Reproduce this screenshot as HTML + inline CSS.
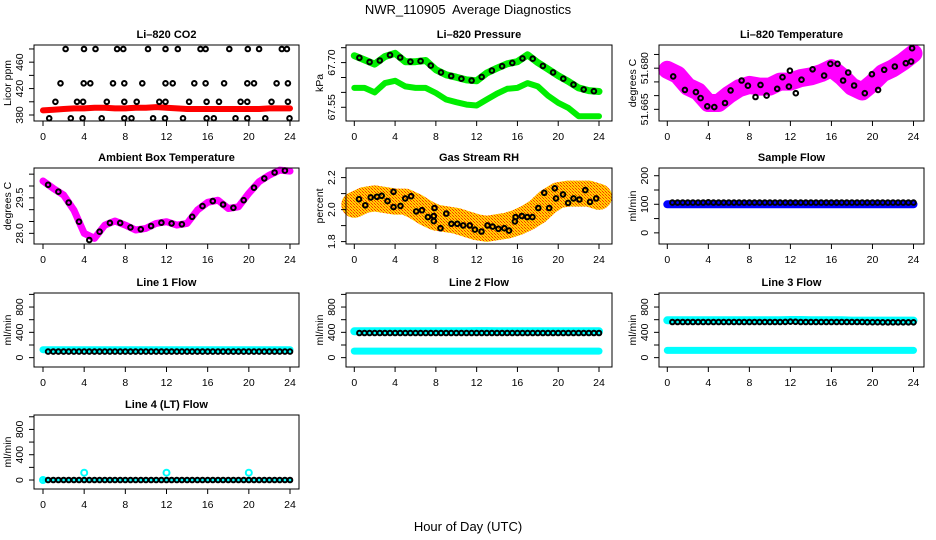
<!DOCTYPE html>
<html><head><meta charset="utf-8"><style>
html,body{margin:0;padding:0;background:#fff}
svg{display:block}
text{font-family:"Liberation Sans",Arial,sans-serif;fill:#000}
</style></head><body>
<svg id="chart" width="936" height="540" viewBox="0 0 936 540" xmlns="http://www.w3.org/2000/svg">
<defs>
<pattern id="rhpat" width="3" height="3" patternUnits="userSpaceOnUse">
<rect width="3" height="3" fill="#ffd400"/><rect width="1" height="1" fill="#ff3000"/><rect x="1" y="1" width="1" height="1" fill="#ff8000"/><rect x="2" y="2" width="1" height="1" fill="#ff3000"/>
</pattern>
</defs>
<text x="468" y="14" font-size="13" text-anchor="middle">NWR_110905&#160; Average Diagnostics</text>
<text x="468" y="531" font-size="13" text-anchor="middle">Hour of Day (UTC)</text>
<g id="panels"></g>
</svg>
<script>
const hourly=[0,1,2,3,4,5,6,7,8,9,10,11,12,13,14,15,16,17,18,19,20,21,22,23,24];
const midHours=[0.5,1.5,2.5,3.5,4.5,5.5,6.5,7.5,8.5,9.5,10.5,11.5,12.5,13.5,14.5,15.5,16.5,17.5,18.5,19.5,20.5,21.5,22.5,23.5];
const halfHours=[0.5,1,1.5,2,2.5,3,3.5,4,4.5,5,5.5,6,6.5,7,7.5,8,8.5,9,9.5,10,10.5,11,11.5,12,12.5,13,13.5,14,14.5,15,15.5,16,16.5,17,17.5,18,18.5,19,19.5,20,20.5,21,21.5,22,22.5,23,23.5,24];
const xTicks=[0,4,8,12,16,20,24];

const co2Red=[387,388,389,390,390,391,391,390,390,391,391,392,391,390,389,389,389,389,389,389,389,389,390,390,390];
const co2PtHours=[2.2,3.98,5.1,7.2,7.8,10.2,11.9,13.1,15.3,15.8,18.1,19.9,21,23.2,23.7,
1.7,3.95,4.6,6.8,7.9,9.65,11.9,12.6,14.7,15.8,17.6,19.85,20.5,22.7,23.8,
1.2,3.3,3.9,6.2,7.9,9.1,11.3,11.9,14.2,15.9,17.1,19.2,19.85,22.2,23.8,
0.6,2.7,3.85,5.7,7.9,8.6,10.7,11.85,13.6,15.9,16.6,18.7,19.85,21.6,23.95];
const co2PtVals=[480,480,480,480,480,480,480,480,480,480,480,480,480,480,480,
428,428,428,428,428,428,428,428,428,428,428,428,428,428,428,
400,400,400,400,400,400,400,400,400,400,400,400,400,400,400,
375,375,375,375,375,375,375,375,375,375,375,375,375,375,375];

const pUpper=[67.723,67.709,67.695,67.720,67.731,67.703,67.703,67.707,67.676,67.659,67.651,67.642,67.639,67.665,67.681,67.696,67.703,67.726,67.700,67.678,67.656,67.637,67.615,67.606,67.603];
const pLower=[67.615,67.615,67.600,67.631,67.639,67.620,67.615,67.615,67.598,67.576,67.567,67.559,67.556,67.576,67.596,67.612,67.615,67.631,67.620,67.589,67.565,67.548,67.520,67.520,67.520];
const pBlack=[67.716,67.702,67.707,67.725,67.717,67.703,67.705,67.690,67.667,67.655,67.646,67.640,67.652,67.673,67.688,67.699,67.714,67.713,67.689,67.667,67.646,67.626,67.610,67.604];

const tMag=[51.6794,51.6776,51.6733,51.6715,51.6673,51.6673,51.6703,51.6727,51.6739,51.6733,51.6733,51.6751,51.6751,51.6764,51.6770,51.6782,51.6800,51.6770,51.6733,51.6715,51.6746,51.6782,51.6800,51.6824,51.6854];
const tBlackHours=[0.58,1.72,2.79,3.25,3.9,4.58,5.62,6.17,7.24,7.86,8.6,9.09,9.68,10.71,11.23,11.95,11.85,12.53,13.08,14.16,15.29,15.9,16.59,17.14,17.63,18.21,19.25,19.94,20.55,21.14,22.18,23.25,23.77,23.86];
const tBlackVals=[51.6770,51.6721,51.6713,51.6691,51.6661,51.6658,51.6673,51.6719,51.6755,51.6736,51.6695,51.6739,51.6700,51.6725,51.6767,51.6791,51.6733,51.6709,51.6758,51.6796,51.6773,51.6816,51.6816,51.6755,51.6784,51.6737,51.6709,51.6778,51.6721,51.6794,51.6806,51.6818,51.6824,51.6873];

const ambMag=[30.21,29.90,29.62,28.98,28.00,27.79,28.35,28.52,28.35,28.14,28.21,28.42,28.49,28.35,28.42,28.98,29.31,29.40,29.05,29.12,29.69,30.18,30.46,30.67,30.63];
const ambBlack=[30.05,29.76,29.30,28.49,27.72,28.07,28.44,28.44,28.25,28.17,28.31,28.45,28.42,28.38,28.70,29.15,29.36,29.22,29.08,29.40,29.93,30.32,30.57,30.65];

const rhCloud=[2.03,2.06,2.07,2.06,2.05,2.05,2.02,1.98,1.95,1.94,1.93,1.91,1.89,1.88,1.89,1.90,1.92,1.95,1.99,2.05,2.09,2.10,2.10,2.10,2.08];
const rhBlackHours=[0.46,1.08,1.61,2.23,2.69,3.26,3.84,3.84,4.53,4.99,5.57,6.07,6.64,7.22,7.8,7.8,7.87,8.45,9.02,9.52,10.1,10.68,11.33,11.83,12.48,13.06,13.56,14.13,14.71,15.17,15.75,15.82,16.44,16.97,17.47,18.05,18.63,19.12,19.66,19.78,20.47,20.97,21.5,22.08,22.66,23.12,23.73];
const rhBlackVals=[2.065,2.027,2.076,2.080,2.086,2.053,2.111,2.016,2.023,2.070,2.084,1.989,1.996,1.953,1.960,1.928,2.010,1.884,1.975,1.911,1.911,1.901,1.901,1.875,1.863,1.901,1.894,1.880,1.884,1.869,1.926,1.953,1.960,1.953,1.953,2.010,2.105,2.010,2.133,2.070,2.095,2.042,2.070,2.063,2.122,2.048,2.070];

const sampleBlue=[100,100,100,100,100,100,100,100,100,100,100,100,100,100,100,100,100,100,100,100,100,100,100,100,100];
const sampleBlack=[106,106,106,106,106,106,106,107,106,106,106,106,106,106,106,106,106,106,106,106,106,106,106,106,106,106,106,106,106,106,106,106,106,106,106,106,106,106,106,106,106,106,106,106,106,106,106,106];

const line1Cyan=[126,126,126,126,126,126,126,126,126,126,126,126,126,126,126,126,126,126,126,126,126,126,126,126,126];
const line1Black=[95,95,95,95,95,95,95,95,95,95,95,95,95,95,95,95,95,95,95,95,95,95,95,95,95,95,95,95,95,95,95,95,95,95,95,95,95,95,95,95,95,95,95,95,95,95,95,95];
const line2CyanHi=[416,416,416,416,416,416,416,416,416,416,416,416,420,420,416,416,416,416,416,416,416,416,416,416,416];
const line2CyanLo=[104,104,104,104,104,104,104,104,104,104,104,104,104,104,104,104,104,104,104,104,104,104,104,104,104];
const line2Black=[390,390,390,390,390,390,390,390,390,390,390,390,390,390,390,390,390,390,390,390,390,390,390,390,390,390,390,390,390,390,390,390,390,390,390,390,390,390,390,390,390,390,390,390,390,390,390,390];
const line3CyanHi=[590,590,590,590,590,590,590,590,590,590,590,590,595,595,590,590,590,590,585,585,585,585,585,585,585];
const line3CyanLo=[115,115,115,115,115,115,115,115,115,115,115,115,115,115,115,115,115,115,115,115,115,115,115,115,115];
const line3Black=[563,563,563,563,563,563,563,563,563,563,563,563,563,563,563,563,563,563,563,563,563,563,565,568,566,563,563,563,563,563,563,563,563,563,563,563,563,563,560,560,560,558,558,558,558,558,558,558];
const line4Cyan=[0,0,0,0,0,0,0,0,0,0,0,0,0,0,0,0,0,0,0,0,0,0,0,0,0];
const line4CyanOutHours=[0,4,12,20];
const line4CyanOutVals=[0,115,115,115];
const line4Black=[0,0,0,0,0,0,0,0,0,0,0,0,0,0,0,0,0,0,0,0,0,0,0,0,0,0,0,0,0,0,0,0,0,0,0,0,0,0,0,0,0,0,0,0,0,0,0,0];

const NS='http://www.w3.org/2000/svg';
const root=document.getElementById('panels');
const cols=[{bx0:34,bx1:299,x0:43,x24:290},{bx0:346,bx1:612,x0:354.3,x24:599},{bx0:659,bx1:924,x0:667.3,x24:913.5}];
const rows=[{by0:45,by1:121},{by0:168,by1:244},{by0:293,by1:367},{by0:415,by1:489}];
function mk(tag,attrs,parent){const e=document.createElementNS(NS,tag);for(const k in attrs)e.setAttribute(k,attrs[k]);parent.appendChild(e);return e;}

function panel(o){
  const c=cols[o.col],r=rows[o.row];
  const g=mk('g',{},root);
  
  
  const xs=h=>c.x0+h*(c.x24-c.x0)/24;
  const ys=v=>r.by1-(v-o.ymin)/(o.ymax-o.ymin)*(r.by1-r.by0);
  const series=mk('g',{},g);
  
  
  o.draw(series,xs,ys);
  const box=mk('rect',{x:c.bx0,y:r.by0,width:c.bx1-c.bx0,height:r.by1-r.by0,fill:'none',stroke:'#000','stroke-width':1},g);
  
  
  const t=mk('text',{x:(c.bx0+c.bx1)/2,y:r.by0-7,'font-size':11,'font-weight':'bold','text-anchor':'middle'},g);
  t.textContent=o.title;
  
  
  const xa=mk('g',{},g);
  
  
  mk('line',{x1:xs(0),x2:xs(24),y1:r.by1,y2:r.by1,stroke:'#000'},xa);
  xTicks.forEach(v=>{
    mk('line',{x1:xs(v),x2:xs(v),y1:r.by1,y2:r.by1+5,stroke:'#000'},xa);
    const l=mk('text',{x:xs(v),y:r.by1+19,'font-size':10.5,'text-anchor':'middle'},xa);
    l.textContent=String(v);
    
    
  });
  const ya=mk('g',{},g);
  
  
  mk('line',{x1:c.bx0,x2:c.bx0,y1:ys(o.yticks[0]),y2:ys(o.yticks[o.yticks.length-1]),stroke:'#000'},ya);
  o.yticks.forEach(v=>{mk('line',{x1:c.bx0-5,x2:c.bx0,y1:ys(v),y2:ys(v),stroke:'#000'},ya);});
  o.ylabels.forEach((s,i)=>{
    const y=ys(o.ylabelVals[i]);
    const l=mk('text',{x:c.bx0-11,y:y,'font-size':10.5,'text-anchor':'middle',transform:`rotate(-90 ${c.bx0-11} ${y})`},ya);
    l.textContent=s;
    
    
  });
  const ym=(r.by0+r.by1)/2;
  const yt=mk('text',{x:c.bx0-23,y:ym,'font-size':10.5,'text-anchor':'middle',transform:`rotate(-90 ${c.bx0-23} ${ym})`},g);
  yt.textContent=o.ylab;
  
  
}
function band(p,xs,ys,hours,vals,color,w,name){
  const d=hours.map((h,i)=>(i?'L':'M')+xs(h).toFixed(1)+' '+ys(vals[i]).toFixed(1)).join(' ');
  const e=mk('path',{d:d,fill:'none',stroke:color,'stroke-width':w,'stroke-linejoin':'round','stroke-linecap':'round'},p);
  
  
}
function pts(p,xs,ys,hours,vals,color,name,r){
  const g=mk('g',{},p);
  
  
  hours.forEach((h,i)=>{
    const c=mk('circle',{cx:xs(h).toFixed(1),cy:ys(vals[i]).toFixed(1),r:r||2.3,fill:'none',stroke:color,'stroke-width':2},g);
    
    
  });
}
const flowTicks=[0,200,400,600,800,1000];

panel({name:'co2-panel',col:0,row:0,title:'Li\u2013820 CO2',ylab:'Licor ppm',ymin:370.9,ymax:486,
 yticks:[380,400,420,440,460,480],ylabels:['380','420','460'],ylabelVals:[380,420,460],
 draw:(p,xs,ys)=>{band(p,xs,ys,hourly,co2Red,'#ff0000',6,'co2-red-band');pts(p,xs,ys,co2PtHours,co2PtVals,'#000','co2-black-points');}});
panel({name:'pressure-panel',col:1,row:0,title:'Li\u2013820 Pressure',ylab:'kPa',ymin:67.504,ymax:67.759,
 yticks:[67.55,67.60,67.65,67.70,67.75],ylabels:['67.55','67.70'],ylabelVals:[67.55,67.70],
 draw:(p,xs,ys)=>{band(p,xs,ys,hourly,pUpper,'#00ee00',7,'pressure-upper-band');band(p,xs,ys,hourly,pLower,'#00ee00',6,'pressure-lower-band');pts(p,xs,ys,midHours,pBlack,'#000','pressure-black-points');}});
panel({name:'temperature-panel',col:2,row:0,title:'Li\u2013820 Temperature',ylab:'degrees C',ymin:51.66075,ymax:51.68845,
 yticks:[51.665,51.670,51.675,51.680,51.685],ylabels:['51.665','51.680'],ylabelVals:[51.665,51.680],
 draw:(p,xs,ys)=>{band(p,xs,ys,hourly,tMag,'#ff00ff',18,'temperature-magenta-band');pts(p,xs,ys,tBlackHours,tBlackVals,'#000','temperature-black-points');}});
panel({name:'ambient-panel',col:0,row:1,title:'Ambient Box Temperature',ylab:'degrees C',ymin:27.55,ymax:30.76,
 yticks:[28.0,28.5,29.0,29.5,30.0,30.5],ylabels:['28.0','29.5'],ylabelVals:[28.0,29.5],
 draw:(p,xs,ys)=>{band(p,xs,ys,hourly,ambMag,'#ff00ff',7,'ambient-magenta-band');pts(p,xs,ys,midHours,ambBlack,'#000','ambient-black-points');}});
panel({name:'rh-panel',col:1,row:1,title:'Gas Stream RH',ylab:'percent',ymin:1.785,ymax:2.26,
 yticks:[1.8,1.9,2.0,2.1,2.2],ylabels:['1.8','2.0','2.2'],ylabelVals:[1.8,2.0,2.2],
 draw:(p,xs,ys)=>{band(p,xs,ys,hourly,rhCloud,'url(#rhpat)',26,'rh-cloud');pts(p,xs,ys,rhBlackHours,rhBlackVals,'#000','rh-black-points');}});
panel({name:'sample-flow-panel',col:2,row:1,title:'Sample Flow',ylab:'ml/min',ymin:-39,ymax:227,
 yticks:[0,50,100,150,200],ylabels:['0','100','200'],ylabelVals:[0,100,200],
 draw:(p,xs,ys)=>{band(p,xs,ys,hourly,sampleBlue,'#0000ff',8,'sample-blue-band');pts(p,xs,ys,halfHours,sampleBlack,'#000','sample-black-points');}});
panel({name:'line1-panel',col:0,row:2,title:'Line 1 Flow',ylab:'ml/min',ymin:-148,ymax:1022,
 yticks:flowTicks,ylabels:['0','400','800'],ylabelVals:[0,400,800],
 draw:(p,xs,ys)=>{band(p,xs,ys,hourly,line1Cyan,'#00ffff',7,'line1-cyan-band');pts(p,xs,ys,halfHours,line1Black,'#000','line1-black-points');}});
panel({name:'line2-panel',col:1,row:2,title:'Line 2 Flow',ylab:'ml/min',ymin:-148,ymax:1022,
 yticks:flowTicks,ylabels:['0','400','800'],ylabelVals:[0,400,800],
 draw:(p,xs,ys)=>{band(p,xs,ys,hourly,line2CyanHi,'#00ffff',8,'line2-cyan-high');band(p,xs,ys,hourly,line2CyanLo,'#00ffff',7,'line2-cyan-low');pts(p,xs,ys,halfHours,line2Black,'#000','line2-black-points');}});
panel({name:'line3-panel',col:2,row:2,title:'Line 3 Flow',ylab:'ml/min',ymin:-148,ymax:1022,
 yticks:flowTicks,ylabels:['0','400','800'],ylabelVals:[0,400,800],
 draw:(p,xs,ys)=>{band(p,xs,ys,hourly,line3CyanHi,'#00ffff',8,'line3-cyan-high');band(p,xs,ys,hourly,line3CyanLo,'#00ffff',7,'line3-cyan-low');pts(p,xs,ys,halfHours,line3Black,'#000','line3-black-points');}});
panel({name:'line4-panel',col:0,row:3,title:'Line 4 (LT) Flow',ylab:'ml/min',ymin:-142,ymax:1028,
 yticks:flowTicks,ylabels:['0','400','800'],ylabelVals:[0,400,800],
 draw:(p,xs,ys)=>{band(p,xs,ys,hourly,line4Cyan,'#00ffff',4,'line4-cyan-band');pts(p,xs,ys,line4CyanOutHours,line4CyanOutVals,'#00ffff','line4-cyan-outliers',3);pts(p,xs,ys,halfHours,line4Black,'#000','line4-black-points');}});
</script>
</body></html>
